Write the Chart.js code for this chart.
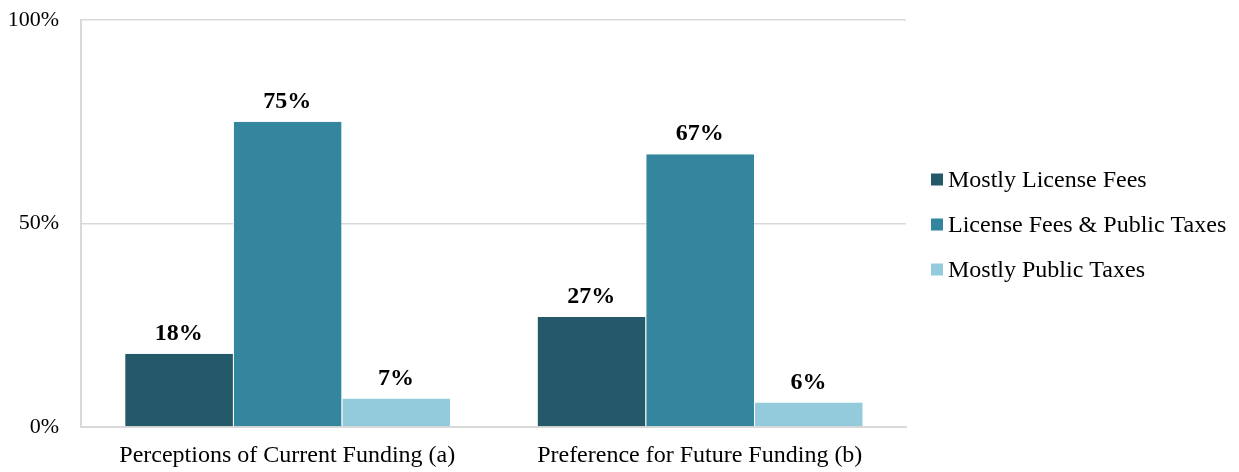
<!DOCTYPE html>
<html>
<head>
<meta charset="utf-8">
<script src="https://cdn.jsdelivr.net/npm/chart.js@4.4.0/dist/chart.umd.min.js"></script>
<style>
  html, body { margin: 0; padding: 0; background: #fff; }
  #wrap { width: 1239px; height: 472px; }
</style>
</head>
<body>
<div id="wrap"><canvas id="fundingChart"></canvas></div>
<script>
const categories = ['Perceptions of Current Funding (a)', 'Preference for Future Funding (b)'];
const seriesNames = ['Mostly License Fees', 'License Fees & Public Taxes', 'Mostly Public Taxes'];
const mostlyFees = [18, 27];
const feesAndTaxes = [75, 67];
const mostlyTaxes = [7, 6];
const yTicks = [0, 50, 100];

const colors = ['#235968', '#33869e', '#93cbdc'];
const serif = '"Liberation Serif", "Times New Roman", serif';

// draws the value above each bar
const valueLabels = {
    id: 'valueLabels',
    afterDatasetsDraw(chart) {
        const ctx = chart.ctx;
        ctx.save();
        ctx.font = 'bold 24px ' + serif;
        ctx.fillStyle = '#000';
        ctx.textAlign = 'center';
        ctx.textBaseline = 'alphabetic';
        chart.data.datasets.forEach((ds, i) => {
            chart.getDatasetMeta(i).data.forEach((bar, j) => {
                ctx.fillText(ds.data[j] + '%', bar.x, bar.y - 14);
            });
        });
        ctx.restore();
    }
};

// legend on the right, small square + label, like the original
const sideLegend = {
    id: 'sideLegend',
    afterDraw(chart) {
        const ctx = chart.ctx;
        const area = chart.chartArea;
        const mid = (area.top + area.bottom) / 2 + 1;
        const n = chart.data.datasets.length;
        ctx.save();
        ctx.font = '24px ' + serif;
        ctx.textBaseline = 'middle';
        ctx.textAlign = 'left';
        chart.data.datasets.forEach((ds, i) => {
            const y = mid + (i - (n - 1) / 2) * 45;
            const x = area.right + 25;
            ctx.fillStyle = ds.backgroundColor;
            ctx.fillRect(x, y - 6, 12, 12);
            ctx.fillStyle = '#000';
            ctx.fillText(ds.label, x + 17, y + 1);
        });
        ctx.restore();
    }
};

const ctx = document.getElementById('fundingChart');
new Chart(ctx, {
    type: 'bar',
    data: {
        labels: categories,
        datasets: [
            { label: seriesNames[0], data: mostlyFees, backgroundColor: colors[0] },
            { label: seriesNames[1], data: feesAndTaxes, backgroundColor: colors[1] },
            { label: seriesNames[2], data: mostlyTaxes, backgroundColor: colors[2] }
        ].map(d => Object.assign(d, {
            borderColor: '#ffffff',
            borderWidth: { left: 1, right: 0, top: 0, bottom: 0 },
            categoryPercentage: 0.79,
            barPercentage: 1
        }))
    },
    options: {
        responsive: true,
        maintainAspectRatio: false,
        animation: false,
        layout: { padding: { top: 20, left: 0, right: 333, bottom: 0 } },
        scales: {
            x: {
                afterFit: axis => { axis.height = 45; axis.paddingLeft = 0; axis.paddingRight = 0; },
                grid: { display: false, drawTicks: false },
                border: { color: '#d9d9d9', width: 2 },
                ticks: { color: '#000', font: { family: serif, size: 24 }, padding: 14 }
            },
            y: {
                min: 0,
                max: 100,
                afterBuildTicks: axis => { axis.ticks = yTicks.map(v => ({ value: v })); },
                afterFit: axis => { axis.width = 81; axis.paddingTop = 0; axis.paddingBottom = 0; },
                grid: { color: '#d9d9d9', lineWidth: 1.5, drawTicks: false },
                border: { color: '#d9d9d9', width: 2 },
                ticks: {
                    color: '#000',
                    font: { family: serif, size: 22 },
                    padding: 22,
                    callback: v => v + '%'
                }
            }
        },
        plugins: {
            legend: { display: false },
            tooltip: { enabled: false }
        }
    },
    plugins: [valueLabels, sideLegend]
});
</script>
</body>
</html>
